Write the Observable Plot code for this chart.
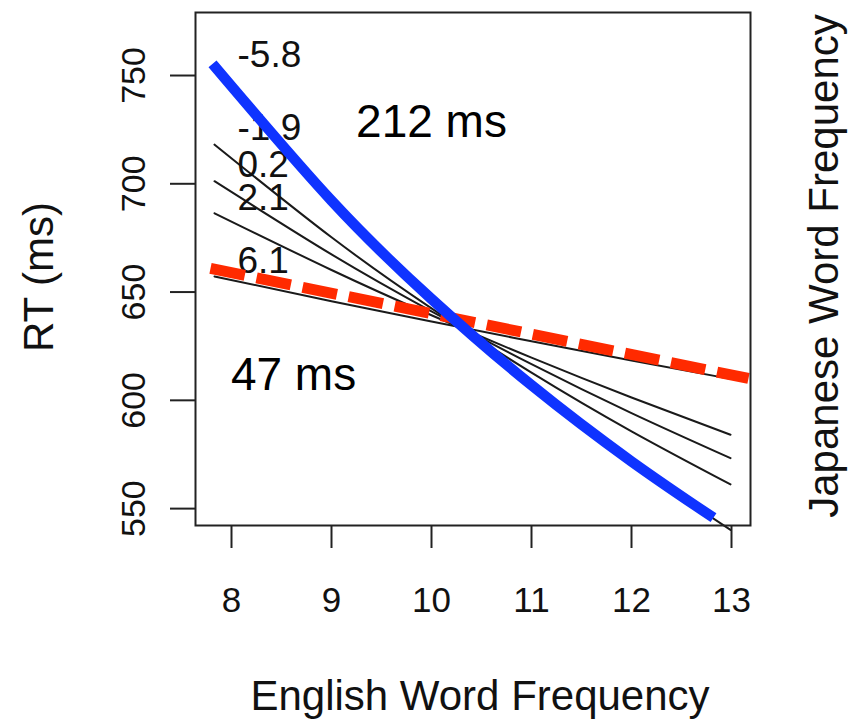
<!DOCTYPE html>
<html>
<head>
<meta charset="utf-8">
<script src="https://cdn.jsdelivr.net/npm/d3@7"></script>
<script src="https://cdn.jsdelivr.net/npm/@observablehq/plot@0.6"></script>
<style>
  html, body { margin: 0; padding: 0; background: #fff; }
  #chart svg { display: block; }
</style>
</head>
<body>
<div id="chart"></div>
<script>
// ---- data ----
const xTicks = [8, 9, 10, 11, 12, 13];
const yTicks = [550, 600, 650, 700, 750];

// English word frequency at which each R line was read
const freqPoints = [7.83, 9, 10, 11, 12, 12.99];
// predicted RT (ms) for each Japanese-frequency level
const moderatorLabels = ["-5.8", "-1.9", "0.2", "2.1", "6.1"];
const rtJapMinus58 = [752.0, 690.6, 645.6, 606.1, 571.1, 540.2];
const rtJapMinus19 = [718.1, 675.3, 642.5, 612.8, 585.7, 561.2];
const rtJap02      = [701.2, 667.4, 641.1, 616.7, 594.1, 573.3];
const rtJap21      = [686.4, 660.2, 639.3, 619.7, 601.3, 584.1];
const rtJap61      = [657.2, 645.8, 636.4, 627.3, 618.4, 609.9];

// highlighted overlays: low Japanese frequency (blue) and high (red dashed)
const blueFreq = [7.81, 9, 10, 11, 12, 12.82];
const blueRT   = [755.4, 692.2, 646.8, 607.0, 571.8, 545.8];
const redFreq  = [7.79, 13.17];
const redRT    = [660.9, 610.1];

// level labels next to the lines
const labelFreq = [8.06, 8.06, 8.06, 8.06, 8.06];
const labelRT   = [759.2, 725.6, 708.7, 693.3, 664.1];

// effect-size annotations
const annText = ["212 ms", "47 ms"];
const annFreq = [10.0, 8.62];
const annRT   = [728.3, 611.4];

// ---- build tables ----
const rtSeries = [rtJapMinus58, rtJapMinus19, rtJap02, rtJap21, rtJap61];
const blackData = rtSeries.flatMap((arr, k) =>
  freqPoints.map((f, i) => ({freq: f, rt: arr[i], level: moderatorLabels[k]})));
const blueData = blueFreq.map((f, i) => ({freq: f, rt: blueRT[i]}));
const redData = redFreq.map((f, i) => ({freq: f, rt: redRT[i]}));
const labelData = moderatorLabels.map((t, i) => ({text: t, freq: labelFreq[i], rt: labelRT[i]}));
const annData = annText.map((t, i) => ({text: t, freq: annFreq[i], rt: annRT[i]}));

const font = "'Liberation Sans', Arial, Helvetica, sans-serif";

const chart = Plot.plot({
  width: 848,
  height: 723,
  marginLeft: 195,
  marginRight: 98,
  marginTop: 12,
  marginBottom: 198,
  style: {fontFamily: font, background: "#fff", color: "#111", overflow: "visible"},
  x: {domain: [7.64, 13.19]},
  y: {domain: [542.2, 779.1]},
  marks: [
    Plot.line(blackData, {x: "freq", y: "rt", z: "level", stroke: "#1a1a1a", strokeWidth: 2, curve: "natural"}),
    Plot.text(labelData, {x: "freq", y: "rt", text: "text", textAnchor: "start", fontSize: 37, fill: "#111"}),
    Plot.line(redData, {x: "freq", y: "rt", stroke: "#ff2a00", strokeWidth: 11, strokeDasharray: "35,12", strokeLinecap: "butt"}),
    Plot.line(blueData, {x: "freq", y: "rt", stroke: "#0f33ff", strokeWidth: 10.5, strokeLinecap: "butt", curve: "natural"}),
    Plot.text(annData, {x: "freq", y: "rt", text: "text", fontSize: 46, fill: "#000"}),
    Plot.frame({stroke: "#222", strokeWidth: 2}),
    Plot.axisX({ticks: xTicks, tickFormat: d3.format("d"), tickSize: 23, tickPadding: 39, fontSize: 35, label: null, strokeWidth: 2, stroke: "#222"}),
    Plot.axisY({ticks: yTicks, tickFormat: d3.format("d"), tickSize: 25, tickPadding: 26, tickRotate: -90, fontSize: 34, label: null, strokeWidth: 2, stroke: "#222"}),
    Plot.text(["English Word Frequency"], {frameAnchor: "bottom", textAnchor: "middle", lineAnchor: "bottom", dy: 184, dx: 7, fontSize: 42, fill: "#111"}),
    Plot.text(["RT (ms)"], {frameAnchor: "left", textAnchor: "middle", rotate: -90, dx: -156, dy: 8, fontSize: 42, fill: "#111"}),
    Plot.text(["Japanese Word Frequency"], {frameAnchor: "right", textAnchor: "middle", rotate: -90, dx: 74, dy: -3, fontSize: 42, fill: "#111"})
  ]
});
document.getElementById("chart").appendChild(chart);
</script>
</body>
</html>
